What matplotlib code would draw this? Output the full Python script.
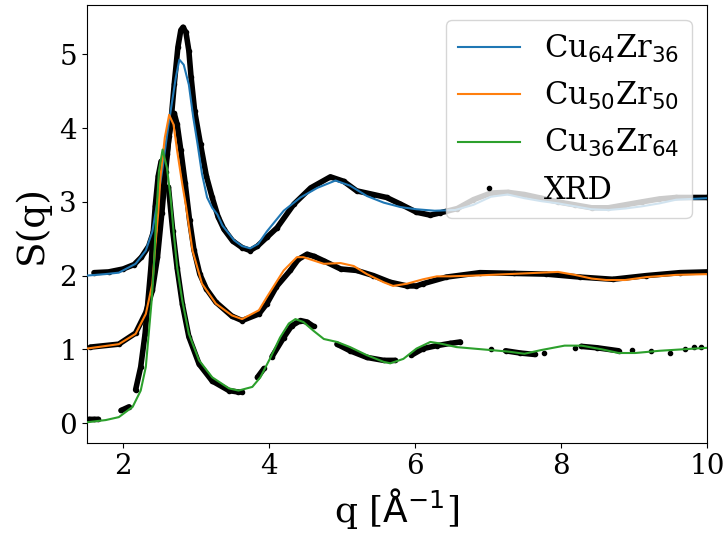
"""
S(q) of CuZr glasses: simulation vs XRD
"""

import numpy as np
import matplotlib
matplotlib.use("Agg")
import matplotlib.pyplot as plt
from matplotlib.lines import Line2D

nan = np.nan

# simulated structure factors (values include the vertical offsets 2, 1, 0)
q_cu64 = [1.50, 1.75, 1.94, 2.17, 2.31, 2.40, 2.47, 2.54, 2.60, 2.65, 2.72, 2.77,
          2.83, 2.90, 2.96, 3.02, 3.08, 3.15, 3.22, 3.29, 3.36, 3.52, 3.63, 3.74,
          3.85, 3.97, 4.20, 4.43, 4.66, 4.91, 5.11, 5.34, 5.57, 5.80, 6.02, 6.27,
          6.55, 6.80, 7.04, 7.27, 7.50, 7.73, 7.96, 8.19, 8.42, 8.65, 8.88, 9.11,
          9.35, 9.58, 10.0]
s_cu64 = [2.00, 2.02, 2.04, 2.16, 2.34, 2.60, 3.01, 3.46, 3.90, 4.23, 4.68, 4.93,
          4.86, 4.59, 4.15, 3.78, 3.38, 3.06, 2.92, 2.83, 2.68, 2.48, 2.40, 2.37,
          2.43, 2.60, 2.88, 3.06, 3.19, 3.29, 3.22, 3.08, 2.99, 2.93, 2.90, 2.88,
          2.89, 2.96, 3.07, 3.10, 3.05, 3.01, 2.98, 2.94, 2.90, 2.89, 2.91, 2.94,
          2.98, 3.03, 3.05]

q_cu50 = [1.50, 1.94, 2.17, 2.31, 2.40, 2.44, 2.48, 2.51, 2.57, 2.63, 2.69, 2.74,
          2.81, 2.86, 2.95, 3.08, 3.27, 3.49, 3.63, 3.86, 3.97, 4.20, 4.38, 4.47,
          4.75, 4.98, 5.16, 5.34, 5.57, 5.70, 5.89, 6.11, 6.30, 6.48, 6.80, 7.27,
          7.73, 7.96, 8.19, 8.42, 8.62, 8.88, 9.17, 9.58, 10.0]
s_cu50 = [1.01, 1.07, 1.21, 1.48, 1.89, 2.40, 2.85, 3.33, 3.87, 4.18, 4.05, 3.69,
          3.24, 2.95, 2.34, 1.89, 1.62, 1.46, 1.41, 1.53, 1.71, 2.07, 2.25, 2.25,
          2.16, 2.17, 2.13, 2.02, 1.91, 1.86, 1.89, 1.95, 1.99, 1.99, 2.00, 2.02,
          2.04, 2.05, 2.01, 1.96, 1.94, 1.94, 1.98, 2.01, 2.02]

q_cu36 = [1.50, 1.76, 1.94, 2.13, 2.24, 2.31, 2.35, 2.39, 2.42, 2.45, 2.49, 2.54,
          2.60, 2.65, 2.69, 2.74, 2.81, 2.90, 3.04, 3.22, 3.45, 3.58, 3.77, 3.88,
          4.02, 4.15, 4.27, 4.36, 4.47, 4.61, 4.75, 4.93, 5.11, 5.34, 5.57, 5.66,
          5.84, 6.02, 6.21, 6.34, 6.57, 6.80, 7.27, 7.50, 7.73, 8.05, 8.28, 8.56,
          8.79, 9.02, 9.35, 9.67, 10.0]
s_cu36 = [0.01, 0.04, 0.08, 0.22, 0.44, 0.76, 1.21, 1.66, 2.11, 2.75, 3.42, 3.71,
          3.46, 3.06, 2.60, 2.11, 1.66, 1.21, 0.85, 0.62, 0.47, 0.44, 0.49, 0.62,
          0.89, 1.16, 1.35, 1.41, 1.37, 1.25, 1.14, 1.10, 1.03, 0.92, 0.83, 0.81,
          0.87, 1.01, 1.10, 1.08, 1.03, 1.01, 0.97, 0.94, 0.99, 1.05, 1.05, 1.00,
          0.95, 0.95, 0.98, 1.00, 1.02]

# XRD data (nan = gap in the measured data)
q_xrd64 = [1.60, 1.80, 2.00, 2.15, 2.25, 2.35, 2.45, 2.53, 2.60, 2.66, 2.70, 2.75,
           2.79, 2.82, 2.86, 2.90, 2.93, 2.98, 3.06, 3.14, 3.22, 3.30, 3.38, 3.50,
           3.63, 3.74, 3.84, 3.97, 4.11, 4.34, 4.57, 4.84, 5.02, 5.20, 5.43, 5.61,
           5.80, 6.02, 6.21, 6.34, 6.58, 6.80, 7.04, 7.27, 7.50, 7.73, 7.96, 8.19,
           8.42, 8.65, 8.88, 9.11, 9.35, 9.58, 10.0]
s_xrd64 = [2.04, 2.05, 2.09, 2.15, 2.25, 2.40, 2.70, 3.15, 3.65, 4.15, 4.60, 5.10,
           5.33, 5.37, 5.30, 5.05, 4.70, 4.23, 3.78, 3.35, 3.06, 2.80, 2.63, 2.47,
           2.38, 2.34, 2.40, 2.52, 2.65, 2.97, 3.19, 3.34, 3.28, 3.15, 3.10, 3.06,
           2.97, 2.86, 2.82, 2.85, 2.91, 3.03, 3.12, 3.13, 3.10, 3.05, 3.00, 2.96,
           2.92, 2.92, 2.96, 3.00, 3.04, 3.06, 3.06]

q_xrd50 = [1.55, 1.94, 2.17, 2.31, 2.40, 2.47, 2.53, 2.58, 2.63, 2.67, 2.70, 2.74,
           2.79, 2.85, 2.91, 2.97, 3.05, 3.14, 3.27, 3.49, 3.63, 3.86, 3.97, 4.10,
           4.29, 4.40, 4.52, 4.62, 4.75, 4.98, 5.20, 5.43, 5.66, 5.89, 6.02, 6.11,
           6.43, 6.89, 7.35, 7.80, 8.26, 8.71, 9.17, 9.63, 10.0]
s_xrd50 = [1.03, 1.07, 1.22, 1.50, 1.80, 2.25, 2.85, 3.40, 3.90, 4.15, 4.20, 4.05,
           3.70, 3.25, 2.75, 2.35, 2.02, 1.82, 1.64, 1.45, 1.39, 1.48, 1.62, 1.85,
           2.07, 2.22, 2.29, 2.26, 2.20, 2.09, 2.07, 2.00, 1.91, 1.86, 1.86, 1.89,
           1.98, 2.04, 2.03, 2.02, 1.98, 1.95, 2.00, 2.04, 2.05]

q_xrd36 = [1.53, 1.60, 1.66, nan, 1.97, 2.08, nan, 2.17, 2.24, 2.30, 2.34, 2.38,
           2.41, 2.44, 2.48, 2.52, nan, 2.62, 2.68, 2.74, 2.81, 2.90, 3.04, 3.22,
           3.45, 3.58, 3.63, nan, 3.84, 3.93, nan, 4.04, 4.20, 4.31, 4.43, 4.52,
           4.61, nan, 4.93, 5.11, 5.34, 5.57, 5.73, nan, 5.95, 6.11, 6.30, 6.48,
           6.62, nan, 7.04, nan, 7.24, 7.44, 7.64, nan, 7.77, nan, 8.19, nan,
           8.28, 8.50, 8.79, nan, 8.98, nan, 9.23, nan, 9.49, nan, 9.70, nan,
           9.83, nan, 9.92]
s_xrd36 = [0.05, 0.05, 0.05, nan, 0.17, 0.22, nan, 0.45, 0.76, 1.21, 1.66, 2.11,
           2.56, 2.95, 3.35, 3.55, nan, 3.20, 2.60, 2.10, 1.62, 1.17, 0.80, 0.57,
           0.44, 0.42, 0.42, nan, 0.62, 0.74, nan, 0.90, 1.16, 1.32, 1.39, 1.37,
           1.31, nan, 1.07, 0.98, 0.89, 0.85, 0.85, nan, 0.92, 1.01, 1.05, 1.08,
           1.10, nan, 1.00, nan, 0.98, 0.95, 0.93, nan, 0.95, nan, 1.02, nan,
           1.04, 1.02, 0.98, nan, 0.99, nan, 0.98, nan, 0.95, nan, 1.01, nan,
           1.03, nan, 1.03]


def main():
    plt.rcParams['font.family'] = 'serif'
    plt.rcParams['font.serif'] = ['DejaVu Serif']

    fig = plt.figure(figsize=(7.25, 5.41), dpi=100)
    ax = fig.add_axes([0.1196, 0.1806, 0.8554, 0.81])

    ax.plot(q_cu64, s_cu64, color='C0', lw=1.5, zorder=3)
    ax.plot(q_cu50, s_cu50, color='C1', lw=1.5, zorder=3)
    ax.plot(q_cu36, s_cu36, color='C2', lw=1.5, zorder=3)

    for qx, sx in [(q_xrd64, s_xrd64), (q_xrd50, s_xrd50), (q_xrd36, s_xrd36)]:
        ax.plot(qx, sx, color='k', lw=4, marker='.', ms=6,
                solid_capstyle='round', zorder=2)

    handles = [Line2D([], [], color='C0', lw=1.5),
               Line2D([], [], color='C1', lw=1.5),
               Line2D([], [], color='C2', lw=1.5),
               Line2D([], [], color='k', ls='none', marker='.', ms=6)]
    labels = [r'Cu$_{64}$Zr$_{36}$', r'Cu$_{50}$Zr$_{50}$',
              r'Cu$_{36}$Zr$_{64}$', 'XRD']
    ax.legend(handles, labels, loc='upper right', fontsize=22)

    ax.set_xlim(1.5, 10)
    ax.set_ylim(-0.275, 5.67)
    ax.set_xticks([2, 4, 6, 8, 10])
    ax.tick_params(labelsize=20)
    ax.set_xlabel(r'q [$\mathrm{\AA}^{-1}$]', fontsize=26)
    ax.set_ylabel('S(q)', fontsize=27, labelpad=7)

    fig.savefig('out.png', dpi=100)


if __name__ == "__main__":
    main()
